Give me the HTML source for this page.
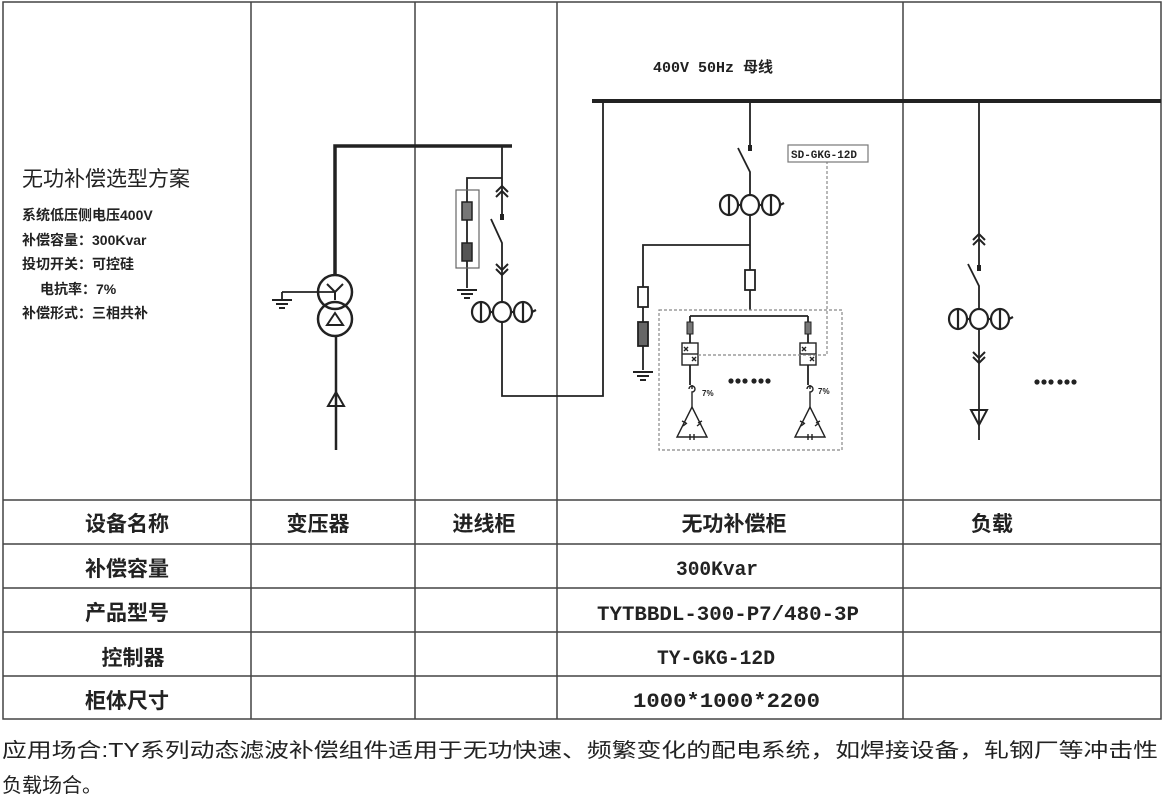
<!DOCTYPE html>
<html><head><meta charset="utf-8"><style>
html,body{margin:0;padding:0;background:#fff;width:1163px;height:801px;overflow:hidden}
svg{display:block}
text{font-family:"Liberation Sans","Noto Sans CJK SC",sans-serif;fill:#222}
text.m{font-family:"Liberation Mono","Noto Sans CJK SC",monospace}
</style></head><body>
<svg width="1163" height="801" viewBox="0 0 1163 801" xmlns="http://www.w3.org/2000/svg">
<defs>
<g id="ct" fill="none" stroke="#222" stroke-width="2.2">
  <ellipse cx="-21" cy="0" rx="9" ry="10"/><line x1="-21" y1="-11" x2="-21" y2="11"/>
  <ellipse cx="0" cy="0" rx="9" ry="10"/>
  <ellipse cx="21" cy="0" rx="9" ry="10"/><line x1="21" y1="-11" x2="21" y2="11"/>
  <line x1="-12" y1="0" x2="-9" y2="0"/><line x1="9" y1="0" x2="12" y2="0"/>
  <path d="M30 0 l4 -2" />
</g>
<g id="chu" fill="none" stroke="#222" stroke-width="2"><path d="M-6 4 L0 -2 L6 4 M-6 9 L0 3 L6 9"/></g>
<g id="chd" fill="none" stroke="#222" stroke-width="2"><path d="M-6 -4 L0 2 L6 -4 M-6 -9 L0 -3 L6 -9"/></g>
<g id="gnd" stroke="#222" stroke-width="2"><line x1="-10" y1="0" x2="10" y2="0"/><line x1="-6" y1="4" x2="6" y2="4"/><line x1="-3" y1="8" x2="3" y2="8"/></g>
<g id="thy" fill="none" stroke="#222" stroke-width="1.4">
  <rect x="-8" y="0" width="16" height="22"/><line x1="-8" y1="11" x2="8" y2="11"/>
  <path d="M-6 4 l4 4 M-6 8 l4 -4 M2 14 l4 4 M2 18 l4 -4"/>
</g>
<g id="cap" fill="none" stroke="#222" stroke-width="1.4">
  <path d="M0 0 L-15 30 L15 30 Z"/>
  <path d="M-3 -18 a3 3 0 1 1 3 3 L0 0" />
  <line x1="0" y1="-22" x2="0" y2="-18"/>
  <path d="M-10 14 l4 2 M-9 19 l4 -3 M6 16 l4 -2 M5 19 l4 -3 M-2 27 v6 M2 27 v6"/>
</g>
<g id="dots" fill="#222">
  <circle cx="0" cy="0" r="2.6"/><circle cx="7" cy="0" r="2.6"/><circle cx="14" cy="0" r="2.6"/>
  <circle cx="23" cy="0" r="2.6"/><circle cx="30" cy="0" r="2.6"/><circle cx="37" cy="0" r="2.6"/>
</g>
</defs>

<g stroke="#444" stroke-width="1.5" fill="none">
<rect x="3" y="2" width="1158" height="717"/>
<line x1="251" y1="2" x2="251" y2="719"/>
<line x1="415" y1="2" x2="415" y2="719"/>
<line x1="557" y1="2" x2="557" y2="719"/>
<line x1="903" y1="2" x2="903" y2="719"/>
<line x1="3" y1="500" x2="1161" y2="500"/>
<line x1="3" y1="544" x2="1161" y2="544"/>
<line x1="3" y1="588" x2="1161" y2="588"/>
<line x1="3" y1="632" x2="1161" y2="632"/>
<line x1="3" y1="676" x2="1161" y2="676"/>
</g>

<text x="22" y="186" font-size="21">无功补偿选型方案</text>
<g font-size="14" font-weight="bold">
<text x="22" y="220">系统低压侧电压400V</text>
<text x="22" y="245">补偿容量：300Kvar</text>
<text x="22" y="269">投切开关：可控硅</text>
<text x="40" y="294">电抗率：7%</text>
<text x="22" y="318">补偿形式：三相共补</text>
</g>
<text x="653" y="72" font-size="15" class="m" font-weight="bold">400V 50Hz 母线</text>

<line x1="592" y1="101" x2="1161" y2="101" stroke="#222" stroke-width="4"/>

<g stroke="#222" fill="none">
<path d="M335 276 V146 H512" stroke-width="3.5"/>
<circle cx="335" cy="292" r="17" stroke-width="2.5"/>
<circle cx="335" cy="319" r="17" stroke-width="2.5"/>
<path d="M335 292 l-8 -8 M335 292 l8 -8 M335 292 v8" stroke-width="2"/>
<path d="M327 325 L335 313 L343 325 Z" stroke-width="2"/>
<path d="M282 292 H334 M282 292 v8" stroke-width="1.8"/>
<line x1="336" y1="336" x2="336" y2="450" stroke-width="2.5"/>
<path d="M328 406 L336 392 L344 406 Z" stroke-width="2"/>
</g>
<use href="#gnd" x="282" y="300"/>

<g stroke="#222" fill="none" stroke-width="1.8">
<path d="M502 146 V218"/>
<path d="M502 178 H467 V288"/>
<rect x="456" y="190" width="23" height="78" stroke="#666" stroke-width="1.2"/>
<rect x="462" y="202" width="10" height="18" fill="#777" stroke-width="1.5"/>
<rect x="462" y="243" width="10" height="18" fill="#555" stroke-width="1.5"/>
<path d="M491 219 L502 243 V302 M502 322 V396 H603 V101" />
</g>
<use href="#chu" x="502" y="188"/>
<rect x="500" y="214" width="4" height="6" fill="#222"/>
<use href="#chd" x="502" y="273"/>
<use href="#gnd" x="467" y="290"/>
<use href="#ct" x="502" y="312"/>

<g stroke="#222" fill="none" stroke-width="1.8">
<path d="M750 101 V150"/>
<path d="M738 148 L750 172 V195 M750 215 V310"/>
<path d="M750 245 H643 V370"/>
<rect x="745" y="270" width="10" height="20" fill="#fff"/>
<rect x="638" y="287" width="10" height="20" fill="#fff"/>
<rect x="638" y="322" width="10" height="24" fill="#666"/>
<path d="M690 316 H808 M690 316 V343 M808 316 V343 M690 365 V385 M808 365 V385"/>
<rect x="687" y="322" width="6" height="12" fill="#777" stroke-width="1"/>
<rect x="805" y="322" width="6" height="12" fill="#777" stroke-width="1"/>
</g>
<rect x="748" y="145" width="4" height="6" fill="#222"/>
<use href="#ct" x="750" y="205"/>
<use href="#gnd" x="643" y="372"/>
<use href="#thy" x="690" y="343"/>
<use href="#thy" x="808" y="343"/>
<use href="#cap" x="692" y="407"/>
<use href="#cap" x="810" y="407"/>
<text x="702" y="396" font-size="8" font-weight="bold">7%</text>
<text x="818" y="394" font-size="8" font-weight="bold">7%</text>
<use href="#dots" x="731" y="381"/>
<g stroke="#888" stroke-width="1.2" fill="none" stroke-dasharray="3,2">
<rect x="659" y="310" width="183" height="140"/>
<path d="M698 355 H827 V162"/>
</g>
<rect x="788" y="145" width="80" height="17" fill="#fff" stroke="#777" stroke-width="1.2"/>
<text x="791" y="158" font-size="11" class="m" font-weight="bold">SD-GKG-12D</text>

<g stroke="#222" fill="none" stroke-width="1.8">
<path d="M979 101 V268"/>
<path d="M968 264 L979 286 V309 M979 329 V440"/>
<path d="M971 410 L987 410 L979 425 Z M971 410 h16" stroke-width="2"/>
</g>
<use href="#chu" x="979" y="236"/>
<rect x="977" y="265" width="4" height="6" fill="#222"/>
<use href="#ct" x="979" y="319"/>
<use href="#chd" x="979" y="361"/>
<use href="#dots" x="1037" y="382"/>

<g font-size="21" text-anchor="middle" font-weight="bold">
<text x="127" y="531">设备名称</text>
<text x="318" y="531">变压器</text>
<text x="484" y="531">进线柜</text>
<text x="734" y="531">无功补偿柜</text>
<text x="992" y="531">负载</text>
<text x="127" y="576">补偿容量</text>
<text x="127" y="620">产品型号</text>
<text x="133" y="665">控制器</text>
<text x="127" y="708">柜体尺寸</text>
</g>
<g font-weight="bold">
<text class="m" x="676" y="575" font-size="20" textLength="82" lengthAdjust="spacingAndGlyphs">300Kvar</text>
<text class="m" x="597" y="620" font-size="20" textLength="262" lengthAdjust="spacingAndGlyphs">TYTBBDL-300-P7/480-3P</text>
<text class="m" x="657" y="664" font-size="20" textLength="118" lengthAdjust="spacingAndGlyphs">TY-GKG-12D</text>
<text class="m" x="633" y="707" font-size="20" textLength="187" lengthAdjust="spacingAndGlyphs">1000*1000*2200</text>
</g>

<text x="2" y="757" font-size="20" fill="#111" textLength="1156" lengthAdjust="spacingAndGlyphs">应用场合:TY系列动态滤波补偿组件适用于无功快速、频繁变化的配电系统，如焊接设备，轧钢厂等冲击性</text>
<text x="2" y="792" font-size="20" fill="#111">负载场合。</text>
</svg>
</body></html>
